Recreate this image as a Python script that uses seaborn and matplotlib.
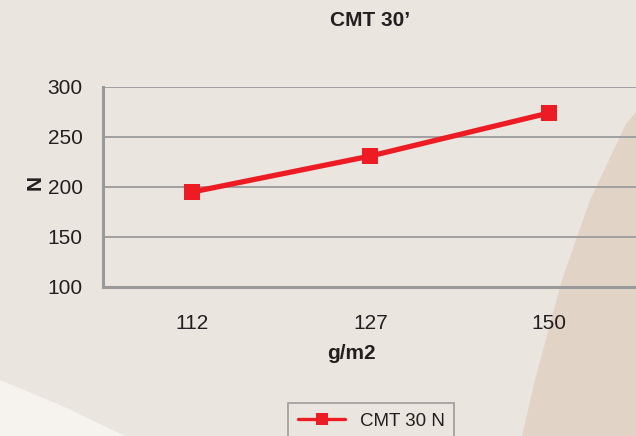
import pandas as pd
import seaborn as sns
import matplotlib.pyplot as plt
from matplotlib.patches import Polygon

# data
grammage = ['112', '127', '150']
cmt_values = [195, 231, 274]
series_name = 'CMT 30 N'

data = pd.DataFrame({'g/m2': grammage, 'N': cmt_values, 'serie': series_name})

sns.set_style('white')
plt.rcParams['font.family'] = ['Liberation Sans', 'DejaVu Sans']

W, H = 636, 436
fig = plt.figure(figsize=(W / 100, H / 100), dpi=100)
fig.patch.set_facecolor('#ebe5df')

# background paper shapes
def px(pts):
    return [(x / W, 1 - y / H) for x, y in pts]

fig.patches.append(Polygon(px([(636, 112), (626, 124), (590, 200), (562, 280),
                               (535, 380), (522, 436), (636, 436)]),
                           closed=True, transform=fig.transFigure,
                           facecolor='#e1d4c6', edgecolor='none', zorder=-5))
fig.patches.append(Polygon(px([(0, 380), (60, 405), (125, 436), (0, 436)]),
                           closed=True, transform=fig.transFigure,
                           facecolor='#f6f3ef', edgecolor='none', zorder=-5))

ax = fig.add_axes([103 / W, 1 - 287 / H, (638 - 103) / W, 200 / H])
ax.set_facecolor('none')

sns.lineplot(data=data, x='g/m2', y='N', hue='serie', palette=['#ed1c24'],
             marker='s', markersize=12, markeredgewidth=0, linewidth=3.8,
             ax=ax, legend=False)

ax.set_xlim(-0.5, 2.5)
ax.set_ylim(100, 300)
ax.set_yticks([100, 150, 200, 250, 300])
ax.set_xticks([-0.5, 0.5, 1.5, 2.5], minor=False)
ax.set_xticklabels([])
ax.set_xticks([0, 1, 2], minor=True)
ax.set_xticklabels(grammage, minor=True)
ax.tick_params(axis='x', which='major', length=7, width=1.5, color='#9a9a9a',
               direction='out')
ax.tick_params(axis='x', which='minor', length=0, labelsize=15, pad=19.5,
               labelcolor='#231f20')
ax.tick_params(axis='y', length=6, width=1.5, color='#9a9a9a', labelsize=15,
               labelcolor='#231f20', pad=8.5)
ax.grid(axis='y', color='#a0a0a0', linewidth=1.4)
for side in ['top', 'right']:
    ax.spines[side].set_visible(False)
for side in ['left', 'bottom']:
    ax.spines[side].set_color('#9a9a9a')
    ax.spines[side].set_linewidth(2.2)
ax.set_axisbelow(True)

ax.set_xlabel('g/m2', fontsize=15, fontweight='bold', color='#231f20')
ax.xaxis.set_label_coords((351 - 103) / 535, (287 - 344) / 200)
ax.set_ylabel('N', fontsize=15, fontweight='bold', color='#231f20')
ax.yaxis.label.set_va('center')
ax.yaxis.set_label_coords((35 - 103) / 535, 0.52)

fig.text(370 / W, 1 - 21 / H, 'CMT 30\u2019', ha='center', va='center',
         fontsize=15, fontweight='bold', color='#231f20')

handle = ax.get_lines()[0]
leg = fig.legend([handle], [series_name], loc='upper center',
                 bbox_to_anchor=(371 / W, 1 - 403 / H), frameon=True,
                 fancybox=False, fontsize=13.5, handlelength=2.55,
                 borderpad=0.5, borderaxespad=0, handletextpad=0.75)
leg.get_frame().set_edgecolor('#8a8a8a')
leg.get_frame().set_facecolor('#ebe5df')
leg.get_frame().set_linewidth(1.2)
for t in leg.get_texts():
    t.set_color('#231f20')
leg.legend_handles[0].set_markersize(8)
leg.legend_handles[0].set_linewidth(2.4)

fig.savefig('out.png', dpi=100, facecolor=fig.get_facecolor())
